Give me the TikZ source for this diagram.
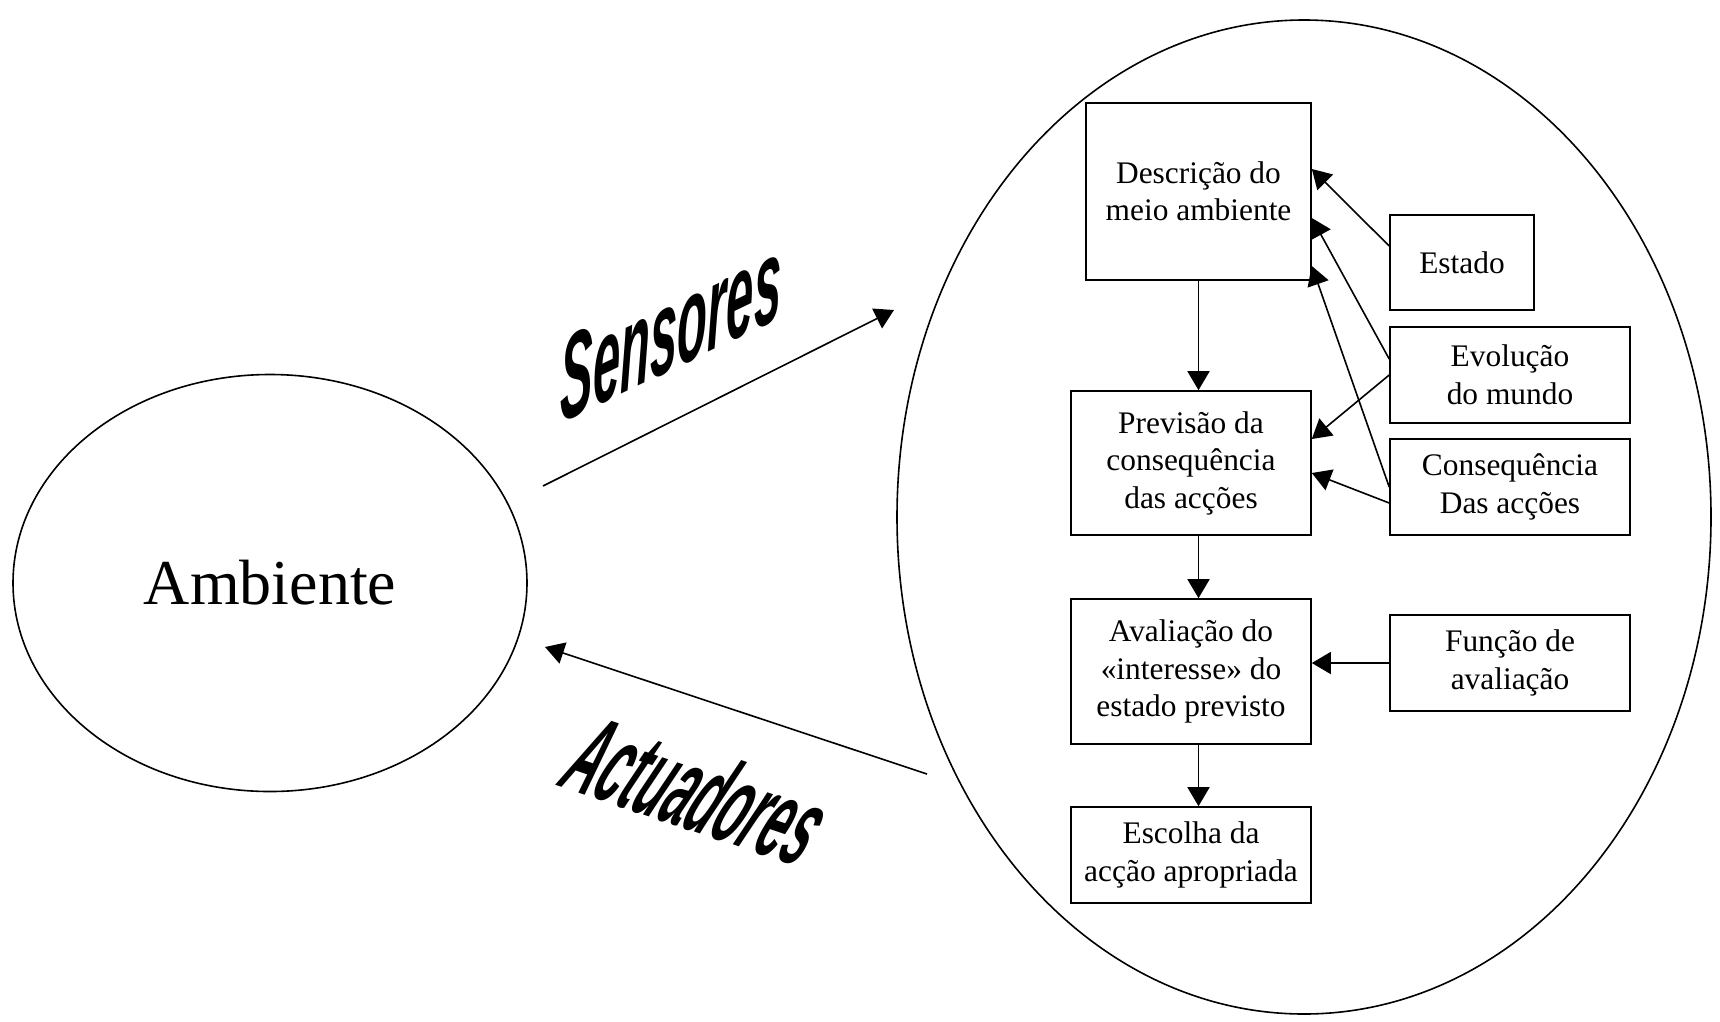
\documentclass[tikz,border=0pt]{standalone}
\usepackage{fontspec}
\setmainfont{Liberation Serif}
\newfontfamily\wafont{Liberation Sans}
\usetikzlibrary{arrows.meta,calc,shapes.geometric}
\newcommand\boxfont{\fontsize{31.4}{37.5}\selectfont}
\newcommand\ambfont{\fontsize{64}{70}\selectfont}
\begin{document}
\begin{tikzpicture}[x=1pt,y=-1pt,line width=1.6pt,
  >={Triangle[length=19pt,width=22pt]},
  box/.style={draw,inner sep=0pt,align=center,font=\boxfont,minimum width=240pt,minimum height=96pt},
  oval/.style={draw,ellipse,inner sep=0pt},
  conn/.style={->},
  wordart/.style={inner sep=0pt}]
\path[fill=white,use as bounding box] (0,0) rectangle (1720,1021);

% ellipses
\node[oval,minimum width=514pt,minimum height=417pt,font=\ambfont] (amb) at (270,583) {Ambiente};
\node[oval,minimum width=814pt,minimum height=994pt] (agent) at (1304,517) {};

% boxes
\node[box,minimum width=225pt,minimum height=177pt] (desc) at (1198.5,191.5) {Descrição do\\meio ambiente};
\node[box,minimum width=144pt,minimum height=95pt] (estado) at (1462,262.5) {Estado};
\node[box] (evol) at (1510,375) {Evolução\\do mundo};
\node[box] (conseq) at (1510,487) {Consequência\\Das acções};
\node[box,minimum height=144pt] (prev) at (1191,463) {Previsão da\\consequência\\das acções};
\node[box,minimum height=145pt] (aval) at (1191,671.5) {Avaliação do\\«interesse» do\\estado previsto};
\node[box] (func) at (1510,663) {Função de\\avaliação};
\node[box] (esc) at (1191,855) {Escolha da\\acção apropriada};

% vertical flow
\draw[conn] (desc.south) -- (desc.south |- prev.north);
\draw[conn] (desc.south |- prev.south) -- (desc.south |- aval.north);
\draw[conn] (desc.south |- aval.south) -- (desc.south |- esc.north);

% side inputs
\draw[conn] ($(estado.west)+(0,-16.5)$) -- ($(desc.east)+(0,-22.5)$);
\draw[conn] ($(evol.west)+(0,-16)$) -- ($(desc.east)+(0,26.5)$);
\draw[conn] (conseq.west) -- ($(desc.east)+(0,74.5)$);
\draw[conn] (evol.west) -- ($(prev.east)+(0,-24)$);
\draw[conn] ($(conseq.west)+(0,16)$) -- ($(prev.east)+(0,10)$);
\draw[conn] (func.west) -- (func.west -| aval.east);

% sensors / actuators
\coordinate (s0) at (543,486);
\coordinate (s1) at (894,310);
\coordinate (a0) at (927,774);
\coordinate (a1) at (545,647);
\draw[conn] (s0) -- (s1);
\draw[conn] (a0) -- (a1);

\node[wordart,font=\wafont\bfseries\itshape\fontsize{49}{53}\selectfont,
      cm={1,0.48,0,2.45,(0,0)}] (sens) at (671,329) {Sensores};
\node[wordart,font=\wafont\bfseries\itshape\fontsize{44}{48}\selectfont,
      cm={1,-0.34,1.3,2.3,(0,0)}] (act) at (698,790) {Actuadores};
\end{tikzpicture}
\end{document}
